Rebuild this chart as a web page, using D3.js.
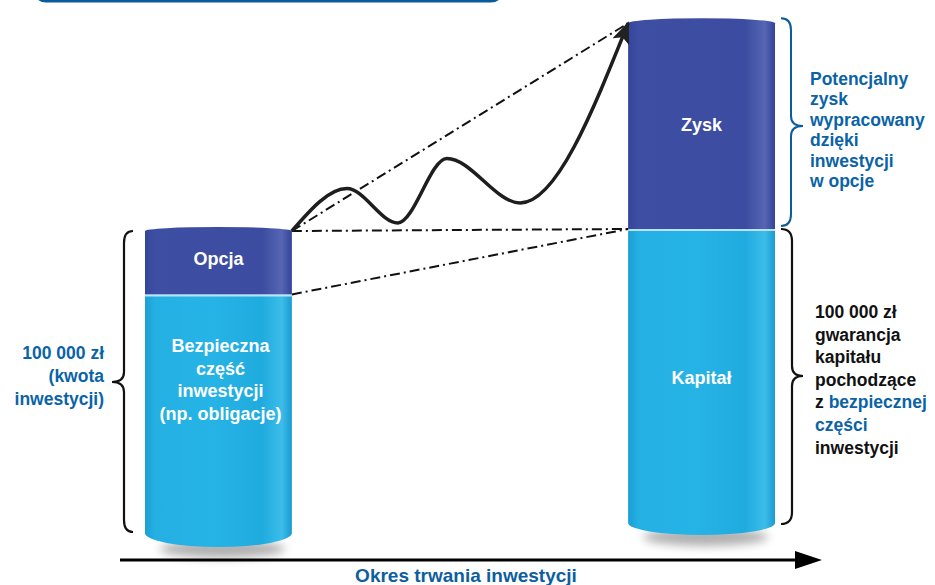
<!DOCTYPE html>
<html lang="pl">
<head>
<meta charset="utf-8">
<script src="https://cdn.jsdelivr.net/npm/d3@7"></script>
<style>
  html, body { margin: 0; padding: 0; background: #ffffff; }
  svg { display: block; }
  text { font-family: "Liberation Sans", Arial, Helvetica, sans-serif; font-weight: bold; }
</style>
</head>
<body>
<svg id="chart" width="935" height="585"></svg>
<script>
// ---------------- DATA ----------------
const categories = ["Początek inwestycji", "Koniec inwestycji"];
const bottomLabels = [["Bezpieczna", "część", "inwestycji", "(np. obligacje)"], ["Kapitał"]];
const bottomValues = [79, 100];          // tys. zł
const topLabels = [["Opcja"], ["Zysk"]];
const topValues = [21, 70];              // tys. zł
// path of the option value over the investment period (time share, tys. zł)
const waveTime = [0, 0.164, 0.315, 0.461, 0.679, 1];
const waveValue = [100, 114, 102.5, 124, 109, 170];
const leftNote = ["100 000 zł", "(kwota", "inwestycji)"];
const profitNote = ["Potencjalny", "zysk", "wypracowany", "dzięki", "inwestycji", "w opcje"];
const capitalNote = [
  [["100 000 zł", "k"]],
  [["gwarancja", "k"]],
  [["kapitału", "k"]],
  [["pochodzące", "k"]],
  [["z ", "k"], ["bezpiecznej", "b"]],
  [["części", "b"]],
  [["inwestycji", "k"]]
];
const axisLabel = "Okres trwania inwestycji";

// ---------------- LAYOUT ----------------
const svg = d3.select("#chart");
const BLUE = "#0a63a6";
const DARK = "#3d4ea2";
const LIGHT = "#22afe2";

const x = d3.scaleBand().domain(categories).range([145, 775]).paddingInner(0.696).paddingOuter(0);
// slight perspective: each cylinder has its own vertical scale
const yScales = [
  d3.scaleLinear().domain([0, 100]).range([533, 231]),
  d3.scaleLinear().domain([0, 100]).range([523, 229])
];
const bottomRy = [14, 12];
const topRy = [4, 5];

const defs = svg.append("defs");
function grad(id, stops) {
  const g = defs.append("linearGradient").attr("id", id).attr("x1", "0%").attr("x2", "100%").attr("y1", "0%").attr("y2", "0%");
  stops.forEach(s => g.append("stop").attr("offset", s[0]).attr("stop-color", s[1]));
}
grad("gLight", [["0%", "#1b9fd4"], ["7%", "#24b0e3"], ["45%", "#26b3e5"], ["80%", "#20abdf"], ["93%", "#3cbde9"], ["100%", "#1a9bd2"]]);
grad("gDark", [["0%", "#34449a"], ["7%", "#3e4fa3"], ["80%", "#3c4ca1"], ["93%", "#5666b3"], ["100%", "#33439a"]]);
const blur = defs.append("filter").attr("id", "blur").attr("x", "-30%").attr("y", "-100%").attr("width", "160%").attr("height", "300%");
blur.append("feGaussianBlur").attr("stdDeviation", 5);

// top box (cut off)
svg.append("rect").attr("x", 34).attr("y", -40).attr("width", 469).attr("height", 41)
  .attr("rx", 12).attr("fill", "none").attr("stroke", "#0b5c9c").attr("stroke-width", 3);

// cylinders
categories.forEach((c, i) => {
  const y = yScales[i];
  const x0 = x(c), x1 = x(c) + x.bandwidth(), cx = (x0 + x1) / 2, rx = x.bandwidth() / 2;
  const yb = y(0), ym = y(bottomValues[i]), yt = y(bottomValues[i] + topValues[i]);
  // shadow
  svg.append("ellipse").attr("cx", cx + 4).attr("cy", yb + bottomRy[i] + 2).attr("rx", rx * 0.85).attr("ry", 9)
    .attr("fill", "#6e6e6e").attr("opacity", 0.55).attr("filter", "url(#blur)");
  // bottom segment
  svg.append("path")
    .attr("d", `M${x0},${ym} L${x1},${ym} L${x1},${yb} A${rx},${bottomRy[i]} 0 0 1 ${x0},${yb} Z`)
    .attr("fill", "url(#gLight)");
  // top segment
  svg.append("path")
    .attr("d", `M${x0},${yt} A${rx},${topRy[i]} 0 0 1 ${x1},${yt} L${x1},${ym} L${x0},${ym} Z`)
    .attr("fill", "url(#gDark)");
  // separation line
  svg.append("line").attr("x1", x0).attr("x2", x1).attr("y1", ym + 1).attr("y2", ym + 1)
    .attr("stroke", "#b9e4f6").attr("stroke-width", 2);

  // labels
  const topLines = topLabels[i];
  const topMid = (yt + ym) / 2 + (i === 0 ? 2 : 5);
  topLines.forEach((t, k) => {
    svg.append("text").attr("x", cx).attr("y", topMid + k * 22.7).attr("text-anchor", "middle")
      .attr("fill", "#ffffff").attr("font-size", 18).text(t);
  });
  const botLines = bottomLabels[i];
  const botStart = i === 0 ? ym + 57.5 : (ym + yb) / 2 + 8;
  botLines.forEach((t, k) => {
    svg.append("text").attr("x", cx + (i === 0 ? 2 : 0)).attr("y", botStart + k * 22.7).attr("text-anchor", "middle")
      .attr("fill", "#ffffff").attr("font-size", 18).text(t);
  });
});

// connecting dash-dot lines
const L = categories[0], R = categories[1];
const lx = x(L) + x.bandwidth(), rx0 = x(R);
const dash = "10,4,2,4";
const conn = [
  [[lx, yScales[0](100)], [rx0, yScales[1](170)]],
  [[lx, yScales[0](100)], [rx0, yScales[1](100)]],
  [[lx, yScales[0](bottomValues[0])], [rx0, yScales[1](100)]]
];
conn.forEach(s => {
  svg.append("line").attr("x1", s[0][0]).attr("y1", s[0][1]).attr("x2", s[1][0]).attr("y2", s[1][1])
    .attr("stroke", "#111").attr("stroke-width", 2).attr("stroke-dasharray", dash);
});

// wave arrow
const tx = d3.scaleLinear().domain([0, 1]).range([lx, rx0]);
const waveY = (t, v) => d3.interpolateNumber(yScales[0](v), yScales[1](v))(t);
const marker = defs.append("marker").attr("id", "head").attr("markerUnits", "userSpaceOnUse")
  .attr("viewBox", "0 0 22 18").attr("refX", 20).attr("refY", 9)
  .attr("markerWidth", 22).attr("markerHeight", 18).attr("orient", "auto");
marker.append("path").attr("d", "M0,0 L22,9 L0,18 L5,9 Z").attr("fill", "#222");
const wave = d3.line().x(d => tx(d[0])).y(d => waveY(d[0], d[1])).curve(d3.curveMonotoneX);
svg.append("path").attr("d", wave(waveTime.map((t, k) => [t, waveValue[k]])))
  .attr("fill", "none").attr("stroke", "#1e1e1e").attr("stroke-width", 3.5)
  .attr("stroke-linejoin", "round").attr("marker-end", "url(#head)");

// braces
function brace(xEnd, xSpine, xTip, y0, y1, yMid) {
  const d = xSpine - xEnd;      // curl direction
  const t = xTip - xSpine;
  return `M${xEnd},${y0} Q${xSpine},${y0} ${xSpine},${y0 + 12}` +
    ` L${xSpine},${yMid - 10} Q${xSpine},${yMid} ${xTip},${yMid}` +
    ` Q${xSpine},${yMid} ${xSpine},${yMid + 10}` +
    ` L${xSpine},${y1 - 12} Q${xSpine},${y1} ${xEnd},${y1}`;
}
// left brace: whole initial investment
{
  const y = yScales[0];
  svg.append("path").attr("d", brace(133, 124, 112, y(100), y(0) - 1, (y(0) + y(100)) / 2))
    .attr("fill", "none").attr("stroke", "#111").attr("stroke-width", 2.2);
}
// right braces
{
  const y = yScales[1];
  svg.append("path").attr("d", brace(781, 791, 803, y(170) - 5, y(100) - 3, (y(170) + y(100)) / 2))
    .attr("fill", "none").attr("stroke", "#0b5c9c").attr("stroke-width", 2);
  svg.append("path").attr("d", brace(781, 792, 803, y(100), y(0) + 1, (y(100) + y(0)) / 2))
    .attr("fill", "none").attr("stroke", "#111").attr("stroke-width", 2.2);
}

// notes
leftNote.forEach((t, k) => {
  svg.append("text").attr("x", 104).attr("y", 359 + k * 23).attr("text-anchor", "end")
    .attr("fill", BLUE).attr("font-size", 17.5).text(t);
});
profitNote.forEach((t, k) => {
  svg.append("text").attr("x", 810).attr("y", 85 + k * 20.4)
    .attr("fill", BLUE).attr("font-size", 17.5).text(t);
});
capitalNote.forEach((parts, k) => {
  const tEl = svg.append("text").attr("x", 815).attr("y", 318 + k * 22.6).attr("font-size", 17.5);
  parts.forEach(p => tEl.append("tspan").attr("fill", p[1] === "b" ? BLUE : "#111").text(p[0]));
});

// time axis
svg.append("line").attr("x1", 120).attr("x2", 800).attr("y1", 560).attr("y2", 560)
  .attr("stroke", "#000").attr("stroke-width", 3);
svg.append("path").attr("d", "M795,551 L822,560 L795,569 Z").attr("fill", "#000");
svg.append("text").attr("x", 466).attr("y", 582).attr("text-anchor", "middle")
  .attr("fill", "#0d5e9e").attr("font-size", 19).text(axisLabel);
</script>
</body>
</html>
